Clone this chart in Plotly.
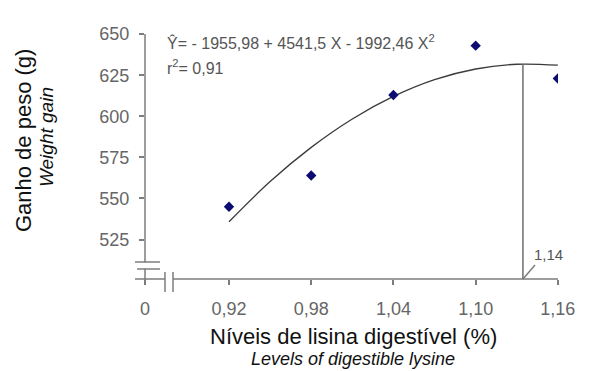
import plotly.graph_objects as go

# ---- data ----
lysine_levels = [0.92, 0.98, 1.04, 1.10, 1.16]
weight_gain = [545, 564, 613, 643, 623]

curve_x = [0.92, 0.95, 0.98, 1.01, 1.04, 1.07, 1.10, 1.13, 1.16]
curve_y = [535.8, 560.3, 581.1, 598.4, 612.1, 622.3, 628.8, 631.7, 631.1]

optimum_x = 1.1345      # drop line as drawn
optimum_y = 631.9
optimum_label = "1,14"

x_tick_vals_data = [0.92, 0.98, 1.04, 1.10, 1.16]
x_tick_text = ["0", "0,92", "0,98", "1,04", "1,10", "1,16"]
y_tick_vals = [525, 550, 575, 600, 625, 650]
y_tick_text = ["525", "550", "575", "600", "625", "650"]

equation_text = "Ŷ= - 1955,98 + 4541,5 X - 1992,46 X<sup>2</sup>"
r2_text = "r<sup>2</sup>= 0,91"

# ---- layout constants ----
AXIS_ZERO_POS = 0.8587   # where the broken axis shows "0"
X_RANGE = [AXIS_ZERO_POS, 1.1601]
Y_RANGE = [501, 650.1]
AX_COL = "#7d7d7d"
TICK_COL = "#666666"
FONT = "Liberation Sans, Arial, sans-serif"

fig = go.Figure()

fig.add_trace(go.Scatter(
    x=curve_x, y=curve_y, mode="lines",
    line=dict(color="#3a3a3a", width=1.3, shape="spline"),
    hoverinfo="skip", showlegend=False))

fig.add_trace(go.Scatter(
    x=lysine_levels, y=weight_gain, mode="markers",
    marker=dict(symbol="diamond", size=8, color="#0b0b72"),
    showlegend=False))

shapes = []
# drop line at the optimum
shapes.append(dict(type="line", xref="x", yref="y",
                   x0=optimum_x, x1=optimum_x, y0=Y_RANGE[0], y1=optimum_y,
                   line=dict(color="#6e6e6e", width=1.5)))

def pline(x0, y0, x1, y1):
    shapes.append(dict(type="line", xref="paper", yref="paper",
                       x0=x0, y0=y0, x1=x1, y1=y1,
                       line=dict(color=AX_COL, width=1.5)))

# y axis line (with break)
pline(0, 1.0, 0, 0.0673)
pline(0, 0.0429, 0, -0.0245)
# y break marks
pline(-0.0242, 0.0694, 0.0363, 0.0694)
pline(-0.0194, 0.0408, 0.0363, 0.0408)
# x axis line (with break)
pline(-0.0242, 0, 0.0484, 0)
pline(0.0678, 0, 1.0, 0)
# x break marks
pline(0.0484, 0.0286, 0.0484, -0.0531)
pline(0.0678, 0.0286, 0.0678, -0.0531)
# leader for the 1,14 label
pline(0.9153, 0, 0.9443, 0.057)

annotations = [
    dict(text=equation_text, xref="paper", yref="paper", x=0.0484, y=0.968,
         xanchor="left", yanchor="middle", showarrow=False,
         font=dict(family=FONT, size=16, color="#555555")),
    dict(text=r2_text, xref="paper", yref="paper", x=0.0484, y=0.866,
         xanchor="left", yanchor="middle", showarrow=False,
         font=dict(family=FONT, size=16, color="#555555")),
    dict(text=optimum_label, xref="paper", yref="paper", x=0.9758, y=0.102,
         xanchor="center", yanchor="middle", showarrow=False,
         font=dict(family=FONT, size=15, color="#555555")),
    dict(text="Níveis de lisina digestível (%)", xref="paper", yref="paper",
         x=0.5048, y=-0.2327, xanchor="center", yanchor="middle", showarrow=False,
         font=dict(family=FONT, size=22, color="#111111")),
    dict(text="<i>Levels of digestible lysine</i>", xref="paper", yref="paper",
         x=0.5048, y=-0.328, xanchor="center", yanchor="middle", showarrow=False,
         font=dict(family=FONT, size=18, color="#111111")),
    dict(text="Ganho de peso (g)", xref="paper", yref="paper",
         x=-0.2954, y=0.567, xanchor="center", yanchor="middle", showarrow=False,
         textangle=-90, font=dict(family=FONT, size=22, color="#111111")),
    dict(text="<i>Weight gain</i>", xref="paper", yref="paper",
         x=-0.2372, y=0.5796, xanchor="center", yanchor="middle", showarrow=False,
         textangle=-90, font=dict(family=FONT, size=19, color="#111111")),
]

fig.update_layout(
    width=613, height=371,
    margin=dict(l=145, r=55, t=34, b=92),
    paper_bgcolor="white", plot_bgcolor="white",
    shapes=shapes, annotations=annotations,
    xaxis=dict(range=X_RANGE, showgrid=False, zeroline=False, showline=False,
               tickmode="array", tickvals=[AXIS_ZERO_POS] + x_tick_vals_data,
               ticktext=x_tick_text, ticks="outside", ticklen=5, tickwidth=1.5,
               tickcolor=AX_COL, ticklabelstandoff=8,
               tickfont=dict(family=FONT, size=18, color=TICK_COL)),
    yaxis=dict(range=Y_RANGE, showgrid=False, zeroline=False, showline=False,
               tickmode="array", tickvals=y_tick_vals, ticktext=y_tick_text,
               ticks="outside", ticklen=5, tickwidth=1.5, tickcolor=AX_COL,
               ticklabelstandoff=6,
               tickfont=dict(family=FONT, size=18, color=TICK_COL)),
)

fig.write_html("out.html", config={"displayModeBar": False},
               post_script="document.body.style.margin='0';document.body.style.padding='0';")
